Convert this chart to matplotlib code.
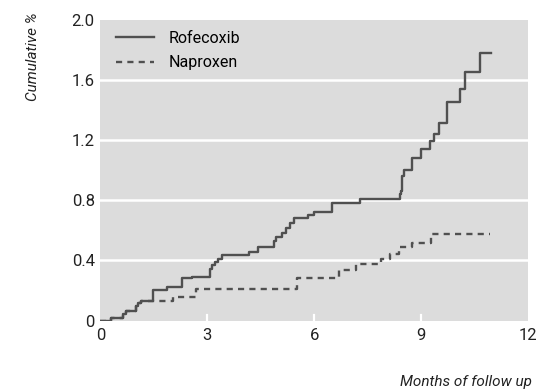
import matplotlib
matplotlib.use("Agg")
import matplotlib.pyplot as plt
from matplotlib import font_manager

names = {f.name for f in font_manager.fontManager.ttflist}
fam = [f for f in ["Liberation Sans Narrow", "Roboto", "DejaVu Sans"] if f in names]
plt.rcParams['font.family'] = fam

# Data (months, cumulative %)
rofe_t = [0, 0.3, 0.63, 0.72, 1.0, 1.06, 1.15, 1.48, 1.86, 2.28, 2.57, 3.06, 3.12, 3.2, 3.3, 3.4,
          4.17, 4.43, 4.86, 4.92, 5.08, 5.2, 5.31, 5.42, 5.81, 5.98, 6.5, 7.29, 8.39, 8.42, 8.46,
          8.5, 8.74, 9.0, 9.24, 9.35, 9.49, 9.73, 10.07, 10.21, 10.63, 10.94]
rofe_v = [0, 0.018, 0.047, 0.062, 0.095, 0.117, 0.133, 0.2, 0.22, 0.28, 0.29, 0.34, 0.37, 0.39, 0.41, 0.435,
          0.457, 0.49, 0.53, 0.557, 0.584, 0.617, 0.65, 0.684, 0.70, 0.724, 0.78, 0.807, 0.84, 0.86, 0.96,
          1.0, 1.08, 1.14, 1.19, 1.24, 1.31, 1.45, 1.54, 1.65, 1.78, 1.78]

napr_t = [0, 0.3, 0.63, 0.72, 1.0, 1.06, 1.15, 2.03, 2.67, 5.5, 6.69, 7.18, 7.87, 8.12, 8.36, 8.74, 9.27, 10.93]
napr_v = [0, 0.018, 0.047, 0.062, 0.095, 0.117, 0.133, 0.155, 0.213, 0.284, 0.335, 0.373, 0.407, 0.44, 0.49, 0.517, 0.577, 0.577]

x_ticks = [0, 3, 6, 9, 12]
y_ticks = [0, 0.4, 0.8, 1.2, 1.6, 2.0]
y_tick_labels = ["0", "0.4", "0.8", "1.2", "1.6", "2.0"]

fig = plt.figure(figsize=(5.37, 3.9), dpi=100)
ax = fig.add_axes([0.187, 0.178, 0.797, 0.772])
ax.set_facecolor("#dcdcdc")
for s in ax.spines.values():
    s.set_visible(False)

for y in y_ticks[1:-1]:
    ax.axhline(y, color="white", lw=1.8, zorder=1)
for x in x_ticks[1:-1]:
    ax.plot([x, x], [0, 0.04], color="white", lw=1.6, zorder=1)

line_color = "#505050"
ax.step(rofe_t, rofe_v, where="post", color=line_color, lw=1.7, label="Rofecoxib", zorder=3)
ax.step(napr_t, napr_v, where="post", color=line_color, lw=1.7, ls=(0, (2.6, 2.2)), label="Naproxen", zorder=2)

ax.set_xlim(0, 12)
ax.set_ylim(0, 2.0)
ax.set_xticks(x_ticks)
ax.set_xticklabels([str(v) for v in x_ticks])
ax.set_yticks(y_ticks)
ax.set_yticklabels(y_tick_labels)
ax.tick_params(length=0, labelsize=12, colors="#222222")
ax.tick_params(axis="x", pad=5)
ax.tick_params(axis="y", pad=4)

leg = ax.legend(loc="upper left", frameon=False, fontsize=11.5, handlelength=2.4,
                handletextpad=0.9, labelspacing=0.6, borderaxespad=0.3,
                bbox_to_anchor=(0.01, 1.0))

fig.text(0.062, 0.855, "Cumulative %", rotation=90, ha="center", va="center",
         fontsize=11, style="italic", color="#222222")
fig.text(0.99, 0.02, "Months of follow up", ha="right", va="center",
         fontsize=11, style="italic", color="#222222")

fig.savefig("out.png", dpi=100)
